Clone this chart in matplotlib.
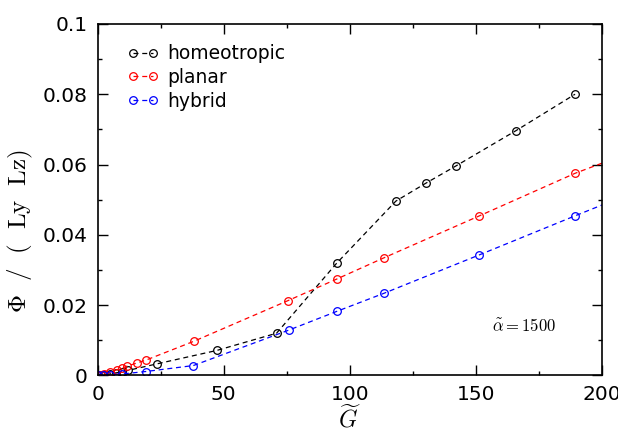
import numpy as np
import matplotlib
matplotlib.use('Agg')
import matplotlib.pyplot as plt
from matplotlib.ticker import MultipleLocator, FuncFormatter

plt.rcParams['mathtext.fontset'] = 'cm'

# homeotropic anchoring
g_homeo = [0, 1.2, 2.4, 4.7, 7.1, 9.5, 11.9, 23.6, 47.2, 70.9, 94.7,
           118.2, 130.1, 142.0, 165.7, 189.2]
phi_homeo = [0, 0.0001, 0.0002, 0.0004, 0.0007, 0.001, 0.0014, 0.0033,
             0.0071, 0.0120, 0.0319, 0.0496, 0.0547, 0.0596, 0.0696, 0.0800]

# planar anchoring
g_planar = [0, 1.2, 2.5, 4.9, 7.5, 9.8, 11.5, 15.4, 19.3, 38.1, 75.5,
            94.7, 113.6, 151.3, 189.2, 227.0]
phi_planar = [0, 0.0002, 0.0004, 0.0009, 0.0016, 0.0021, 0.0026, 0.0035,
              0.0044, 0.0097, 0.0213, 0.0274, 0.0335, 0.0454, 0.0575, 0.0677]

# hybrid anchoring
g_hybrid = [0, 2.3, 4.7, 9.5, 19.0, 37.9, 75.8, 94.7, 113.6, 151.3,
            189.2, 227.0]
phi_hybrid = [0, 0.0001, 0.0002, 0.0004, 0.0011, 0.0028, 0.0129, 0.0182,
              0.0234, 0.0343, 0.0454, 0.0563]

fig = plt.figure(figsize=(6.18, 4.32), dpi=100)
ax = fig.add_axes([0.158, 0.131, 0.8166, 0.8136])

style = dict(ls='--', lw=0.9, marker='o', ms=5.5, mfc='none', mew=0.9,
             dashes=(4, 3))
ax.plot(g_homeo, phi_homeo, color='black', label='homeotropic', **style)
ax.plot(g_planar, phi_planar, color='red', label='planar', **style)
ax.plot(g_hybrid, phi_hybrid, color='blue', label='hybrid', **style)

ax.set_xlim(0, 200)
ax.set_ylim(0, 0.1)
ax.xaxis.set_major_locator(MultipleLocator(50))
ax.xaxis.set_minor_locator(MultipleLocator(25))
ax.yaxis.set_major_locator(MultipleLocator(0.02))
ax.yaxis.set_minor_locator(MultipleLocator(0.01))
ax.yaxis.set_major_formatter(FuncFormatter(lambda v, p: '%g' % round(v, 4)))
ax.tick_params(which='both', direction='in', top=True, right=True,
               labelsize=14.5, pad=7)
ax.tick_params(which='major', length=7, width=1)
ax.tick_params(which='minor', length=3, width=1)
for s in ax.spines.values():
    s.set_linewidth(1.2)

ax.set_xlabel(r'$\widetilde{G}$', fontsize=17, labelpad=0)
ax.set_ylabel(r'$\Phi\ \ /\ \ (\ \ \mathrm{Ly\ \ Lz})$', fontsize=18)
ax.yaxis.set_label_coords(-0.125, 0.41)

ax.text(169, 0.0141, r'$\tilde{\alpha}=1500$', fontsize=12,
        ha='center', va='center')

ax.legend(loc='upper left', frameon=False, fontsize=13.5, numpoints=2,
          handlelength=1.7, handletextpad=0.45, labelspacing=0.25,
          bbox_to_anchor=(0.025, 0.99))

fig.savefig('out.png', dpi=100)
